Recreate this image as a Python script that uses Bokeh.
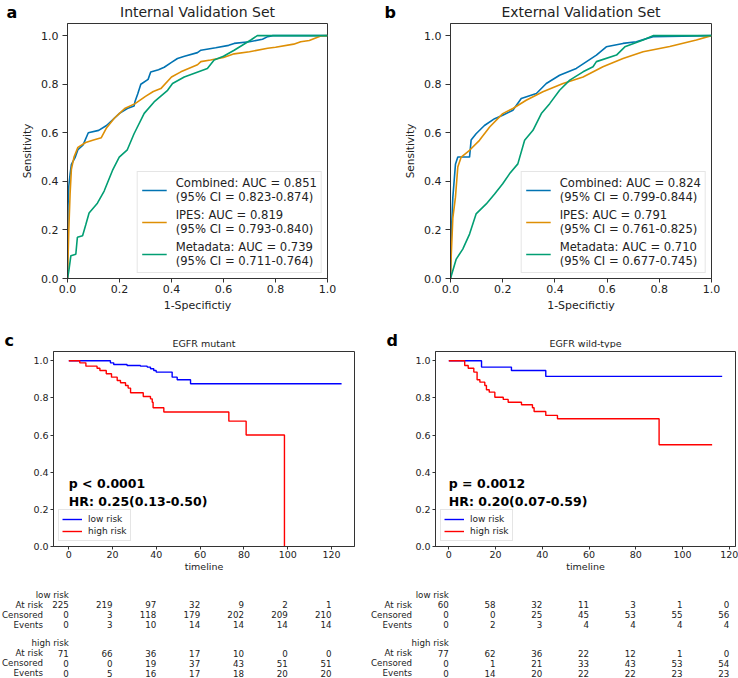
from bokeh.plotting import figure
from bokeh.models import (Range1d, Legend, LegendItem, FixedTicker, NumeralTickFormatter)
from bokeh.layouts import column, row
from bokeh.embed import file_html
from bokeh.resources import INLINE
from bokeh.core.properties import value

FONT = "DejaVu Sans"
TXT = "#222222"

# ---------------- ROC data ----------------
int_comb_fpr = [0, 0.002, 0.005, 0.01, 0.015, 0.03, 0.04, 0.06, 0.08, 0.12, 0.15, 0.18, 0.2, 0.23, 0.256, 0.26, 0.27, 0.282, 0.31, 0.32, 0.35, 0.372, 0.4, 0.423, 0.45, 0.5, 0.513, 0.57, 0.62, 0.641, 0.7, 0.75, 0.77, 0.79, 1.0]
int_comb_tpr = [0, 0.3, 0.38, 0.43, 0.47, 0.5, 0.53, 0.55, 0.6, 0.61, 0.63, 0.66, 0.68, 0.7, 0.71, 0.73, 0.76, 0.8, 0.82, 0.85, 0.86, 0.87, 0.89, 0.906, 0.915, 0.93, 0.94, 0.95, 0.96, 0.968, 0.975, 0.985, 0.996, 1.0, 1.0]
int_ipes_fpr = [0, 0.005, 0.01, 0.015, 0.025, 0.04, 0.07, 0.1, 0.13, 0.15, 0.18, 0.2, 0.22, 0.26, 0.3, 0.33, 0.359, 0.4, 0.436, 0.5, 0.513, 0.55, 0.6, 0.641, 0.7, 0.77, 0.8, 0.87, 0.897, 0.93, 0.974, 1.0]
int_ipes_tpr = [0, 0.2, 0.35, 0.45, 0.5, 0.54, 0.56, 0.57, 0.58, 0.62, 0.66, 0.68, 0.7, 0.72, 0.75, 0.77, 0.782, 0.83, 0.851, 0.88, 0.893, 0.9, 0.91, 0.925, 0.934, 0.948, 0.952, 0.965, 0.975, 0.98, 0.999, 1.0]
int_meta_fpr = [0, 0.005, 0.013, 0.032, 0.038, 0.058, 0.07, 0.083, 0.115, 0.141, 0.173, 0.199, 0.23, 0.256, 0.295, 0.333, 0.385, 0.404, 0.449, 0.538, 0.564, 0.6, 0.641, 0.705, 0.73, 1.0]
int_meta_tpr = [0, 0.03, 0.094, 0.1, 0.17, 0.176, 0.22, 0.27, 0.31, 0.36, 0.445, 0.5, 0.53, 0.596, 0.68, 0.727, 0.775, 0.803, 0.83, 0.865, 0.9, 0.915, 0.94, 0.982, 1.0, 1.0]

ext_comb_fpr = [0, 0.003, 0.009, 0.019, 0.028, 0.073, 0.079, 0.098, 0.13, 0.169, 0.2, 0.239, 0.271, 0.329, 0.367, 0.418, 0.482, 0.559, 0.597, 0.661, 0.712, 0.776, 1.0]
ext_comb_tpr = [0, 0.18, 0.335, 0.47, 0.5, 0.5, 0.57, 0.596, 0.63, 0.658, 0.672, 0.693, 0.741, 0.762, 0.803, 0.837, 0.865, 0.92, 0.954, 0.968, 0.975, 0.996, 1.0]
ext_ipes_fpr = [0, 0.003, 0.009, 0.019, 0.028, 0.041, 0.073, 0.111, 0.15, 0.2, 0.239, 0.29, 0.354, 0.431, 0.508, 0.584, 0.661, 0.738, 0.84, 0.942, 1.0]
ext_ipes_tpr = [0, 0.1, 0.25, 0.335, 0.459, 0.5, 0.528, 0.569, 0.624, 0.679, 0.7, 0.734, 0.769, 0.803, 0.83, 0.872, 0.906, 0.934, 0.955, 0.982, 1.0]
ext_meta_fpr = [0, 0.022, 0.047, 0.073, 0.098, 0.137, 0.169, 0.2, 0.226, 0.258, 0.284, 0.316, 0.348, 0.38, 0.418, 0.457, 0.508, 0.546, 0.559, 0.636, 0.668, 0.738, 0.776, 1.0]
ext_meta_tpr = [0, 0.08, 0.121, 0.183, 0.266, 0.307, 0.348, 0.39, 0.431, 0.472, 0.569, 0.61, 0.679, 0.72, 0.775, 0.817, 0.851, 0.872, 0.893, 0.92, 0.954, 0.982, 1.0, 1.0]

model_names = ["Combined", "IPES", "Metadata"]
model_colors = ["#0173b2", "#de8f05", "#029e73"]
int_auc = ["0.851", "0.819", "0.739"]
int_ci = ["0.823-0.874", "0.793-0.840", "0.711-0.764"]
ext_auc = ["0.824", "0.791", "0.710"]
ext_ci = ["0.799-0.844", "0.761-0.825", "0.677-0.745"]
roc_ticks = [0.0, 0.2, 0.4, 0.6, 0.8, 1.0]
roc_titles = ["Internal Validation Set", "External Validation Set"]

# ---------------- KM data ----------------
mut_low_t = [0, 19.0, 20.5, 26.6, 32.7, 35.8, 37.3, 38.8, 39.9, 47.2, 49.5, 55.6, 124.6]
mut_low_s = [1.0, 0.989, 0.98, 0.975, 0.971, 0.966, 0.957, 0.948, 0.939, 0.912, 0.898, 0.876, 0.876]
mut_high_t = [0, 5.0, 7.8, 12.9, 14.2, 17.1, 19.5, 22.1, 23.6, 25.9, 27.1, 28.2, 34.0, 37.3, 38.1, 38.5, 43.4, 73.1, 81.0, 98.5]
mut_high_s = [1.0, 0.989, 0.971, 0.96, 0.948, 0.93, 0.912, 0.894, 0.882, 0.867, 0.853, 0.828, 0.808, 0.795, 0.777, 0.747, 0.724, 0.675, 0.6, 0.0]
wt_low_t = [0, 14.0, 26.8, 41.5, 117.0]
wt_low_s = [1.0, 0.966, 0.948, 0.916, 0.916]
wt_high_t = [0, 6.8, 8.3, 10.7, 12.1, 13.3, 15.4, 16.1, 17.3, 19.7, 23.3, 25.4, 31.1, 35.8, 36.5, 41.5, 46.5, 90.0, 112.7]
wt_high_s = [1.0, 0.975, 0.96, 0.939, 0.898, 0.885, 0.867, 0.844, 0.831, 0.804, 0.792, 0.777, 0.763, 0.747, 0.727, 0.706, 0.688, 0.548, 0.548]

km_x_ticks = [0, 20, 40, 60, 80, 100, 120]
km_y_ticks = [0.0, 0.2, 0.4, 0.6, 0.8, 1.0]
km_titles = ["EGFR mutant", "EGFR wild-type"]
group_names = ["low risk", "high risk"]
row_names = ["At risk", "Censored", "Events"]

mut_low_table = [[225, 219, 97, 32, 9, 2, 1], [0, 3, 118, 179, 202, 209, 210], [0, 3, 10, 14, 14, 14, 14]]
mut_high_table = [[71, 66, 36, 17, 10, 0, 0], [0, 0, 19, 37, 43, 51, 51], [0, 5, 16, 17, 18, 20, 20]]
wt_low_table = [[60, 58, 32, 11, 3, 1, 0], [0, 0, 25, 45, 53, 55, 56], [0, 2, 3, 4, 4, 4, 4]]
wt_high_table = [[77, 62, 36, 22, 12, 1, 0], [0, 1, 21, 33, 43, 53, 54], [0, 14, 20, 22, 22, 23, 23]]

mut_stats = ["p < 0.0001", "HR: 0.25(0.13-0.50)"]
wt_stats = ["p = 0.0012", "HR: 0.20(0.07-0.59)"]
panel_letters = ["a", "b", "c", "d"]

# ---------------- layout constants (pixels) ----------------
COL_W = 369
ROC_H, ROC_TOP, ROC_BOT = 298, 1, 42
ROC_BORDERS = [(67, 42), (81, 27)]
KM_H, KM_TOP, KM_BOT = 227, 3, 29
KM_BORDERS = [(53, 15), (66, 3)]
HEAD1_H, HEAD2_H, TABLE_H = 22, 28, 102
xr_c = (-7.0, 130.5)
xr_d = (-5.7, 122.7)


def style_axes(p, tick_size, label_size, tick_out, label_standoff):
    for ax in (p.xaxis, p.yaxis):
        ax.major_label_text_font = FONT
        ax.major_label_text_font_size = tick_size
        ax.major_label_text_color = TXT
        ax.axis_label_text_font = FONT
        ax.axis_label_text_font_size = label_size
        ax.axis_label_text_font_style = "normal"
        ax.axis_label_text_color = TXT
        ax.minor_tick_line_color = None
        ax.major_tick_out = tick_out
        ax.major_tick_in = 0
        ax.major_tick_line_color = "#333333"
        ax.axis_line_color = "#333333"
        ax.major_label_standoff = label_standoff
        ax.axis_label_standoff = 3
    p.grid.visible = False
    p.outline_line_color = "#333333"


def header_fig(height, items):
    h = figure(width=2 * COL_W, height=height, x_range=Range1d(0, 2 * COL_W),
               y_range=Range1d(height, 0), output_backend="svg", toolbar_location=None,
               x_axis_location=None, y_axis_location=None, min_border=0)
    h.grid.visible = False
    h.outline_line_color = None
    for x, y, txt, size, bold in items:
        h.text(x=[x], y=[y], text=[txt], text_font=value(FONT), text_font_size=size,
               text_font_style="bold" if bold else "normal",
               text_color="black" if bold else TXT,
               text_align="left" if bold else "center", text_baseline="middle")
    return h


def roc_fig(curves, aucs, cis, bl, br):
    p = figure(width=COL_W, height=ROC_H, x_range=Range1d(0, 1), y_range=Range1d(0, 1.05),
               output_backend="svg", toolbar_location=None,
               min_border_left=bl, min_border_right=br, min_border_top=ROC_TOP,
               min_border_bottom=ROC_BOT)
    style_axes(p, "11px", "11px", 5, 4)
    p.xaxis.major_tick_out = 4
    p.xaxis.major_label_standoff = 2
    p.yaxis.axis_label_standoff = 5
    p.xaxis.ticker = FixedTicker(ticks=roc_ticks)
    p.yaxis.ticker = FixedTicker(ticks=roc_ticks)
    p.xaxis.formatter = NumeralTickFormatter(format="0.0")
    p.yaxis.formatter = NumeralTickFormatter(format="0.0")
    p.xaxis.axis_label = "1-Specifictiy"
    p.yaxis.axis_label = "Sensitivity"
    p.yaxis.axis_label_text_font_size = "10.5px"
    items = []
    for (fx, ty), name, col, auc, ci in zip(curves, model_names, model_colors, aucs, cis):
        r = p.line(fx, ty, line_color=col, line_width=1.6)
        items.append(LegendItem(label=f"{name}: AUC = {auc}\n(95% CI = {ci})", renderers=[r]))
    leg = Legend(items=items, location="bottom_right", margin=5, padding=4, spacing=4,
                 label_text_font=FONT, label_text_font_size="11.6px", label_text_color=TXT,
                 label_text_line_height=1.15,
                 glyph_width=25, label_standoff=9, border_line_color="#cccccc",
                 background_fill_alpha=0.85)
    p.add_layout(leg)
    return p


def km_fig(low, high, stats, xr, bl, br):
    p = figure(width=COL_W, height=KM_H, x_range=Range1d(*xr), y_range=Range1d(0, 1.05),
               output_backend="svg", toolbar_location=None,
               min_border_left=bl, min_border_right=br, min_border_top=KM_TOP,
               min_border_bottom=KM_BOT)
    style_axes(p, "9.5px", "9.5px", 3, 2)
    p.xaxis.ticker = FixedTicker(ticks=km_x_ticks)
    p.yaxis.ticker = FixedTicker(ticks=km_y_ticks)
    p.yaxis.formatter = NumeralTickFormatter(format="0.0")
    p.xaxis.axis_label = "timeline"
    p.xaxis.axis_label_standoff = 0
    p.xaxis.major_label_standoff = 1
    r1 = p.step(low[0], low[1], mode="after", line_color="blue", line_width=1.4)
    r2 = p.step(high[0], high[1], mode="after", line_color="red", line_width=1.4)
    p.text(x=[0, 0], y=[0.34, 0.24], text=stats, text_font=value(FONT),
           text_font_style="bold", text_font_size="12.5px", text_baseline="middle",
           text_color="black")
    leg = Legend(items=[LegendItem(label=group_names[0], renderers=[r1]),
                        LegendItem(label=group_names[1], renderers=[r2])],
                 location="bottom_left", margin=5, padding=3, spacing=0,
                 label_text_font=FONT, label_text_font_size="9px", label_text_color=TXT,
                 glyph_width=20, glyph_height=12, label_height=12, label_standoff=6,
                 border_line_color="#cccccc", background_fill_alpha=0.85)
    p.add_layout(leg)
    return p


def table_fig(xr, bl, br, low_tab, high_tab):
    fw = COL_W - bl - br
    s = (xr[1] - xr[0]) / fw
    start = xr[0] - bl * s
    label_x = start + 42.5 * s
    t = figure(width=COL_W, height=TABLE_H, x_range=Range1d(start, start + COL_W * s),
               y_range=Range1d(TABLE_H, 0), output_backend="svg", toolbar_location=None,
               x_axis_location=None, y_axis_location=None, min_border=0)
    t.grid.visible = False
    t.outline_line_color = None
    kw = dict(text_baseline="middle", text_font=value(FONT), text_font_size="8.7px",
              text_color=TXT, text_align="right")
    for g, (y0, tab) in enumerate(zip([19, 67.5], [low_tab, high_tab])):
        t.text(x=[0], y=[y0], text=[group_names[g]], **kw)
        for i, rowvals in enumerate(tab):
            yy = y0 + 10 * (i + 1)
            t.text(x=[label_x], y=[yy], text=[row_names[i]], **kw)
            t.text(x=km_x_ticks, y=[yy] * len(km_x_ticks), text=[str(v) for v in rowvals], **kw)
    return t


def frame_center(col, borders):
    bl, br = borders
    return col * COL_W + bl + (COL_W - bl - br) / 2


head1 = header_fig(HEAD1_H, [
    (6, 12.3, panel_letters[0], "16px", True),
    (COL_W + 15, 11.5, panel_letters[1], "16px", True),
    (frame_center(0, ROC_BORDERS[0]), 11, roc_titles[0], "14px", False),
    (frame_center(1, ROC_BORDERS[1]), 11, roc_titles[1], "14px", False),
])
pa = roc_fig([(int_comb_fpr, int_comb_tpr), (int_ipes_fpr, int_ipes_tpr), (int_meta_fpr, int_meta_tpr)],
             int_auc, int_ci, *ROC_BORDERS[0])
pb = roc_fig([(ext_comb_fpr, ext_comb_tpr), (ext_ipes_fpr, ext_ipes_tpr), (ext_meta_fpr, ext_meta_tpr)],
             ext_auc, ext_ci, *ROC_BORDERS[1])

head2 = header_fig(HEAD2_H, [
    (4, 19.5, panel_letters[2], "16px", True),
    (COL_W + 17, 19.5, panel_letters[3], "16px", True),
    (frame_center(0, KM_BORDERS[0]), 22.5, km_titles[0], "9.5px", False),
    (frame_center(1, KM_BORDERS[1]), 22.5, km_titles[1], "9.5px", False),
])
pc = km_fig((mut_low_t, mut_low_s), (mut_high_t, mut_high_s), mut_stats, xr_c, *KM_BORDERS[0])
pd_ = km_fig((wt_low_t, wt_low_s), (wt_high_t, wt_high_s), wt_stats, xr_d, *KM_BORDERS[1])
tc = table_fig(xr_c, *KM_BORDERS[0], mut_low_table, mut_high_table)
td = table_fig(xr_d, *KM_BORDERS[1], wt_low_table, wt_high_table)

layout = column(head1, row(pa, pb, spacing=0), head2, row(pc, pd_, spacing=0),
                row(tc, td, spacing=0), spacing=0)

open("out.html", "w").write(file_html(layout, INLINE))
